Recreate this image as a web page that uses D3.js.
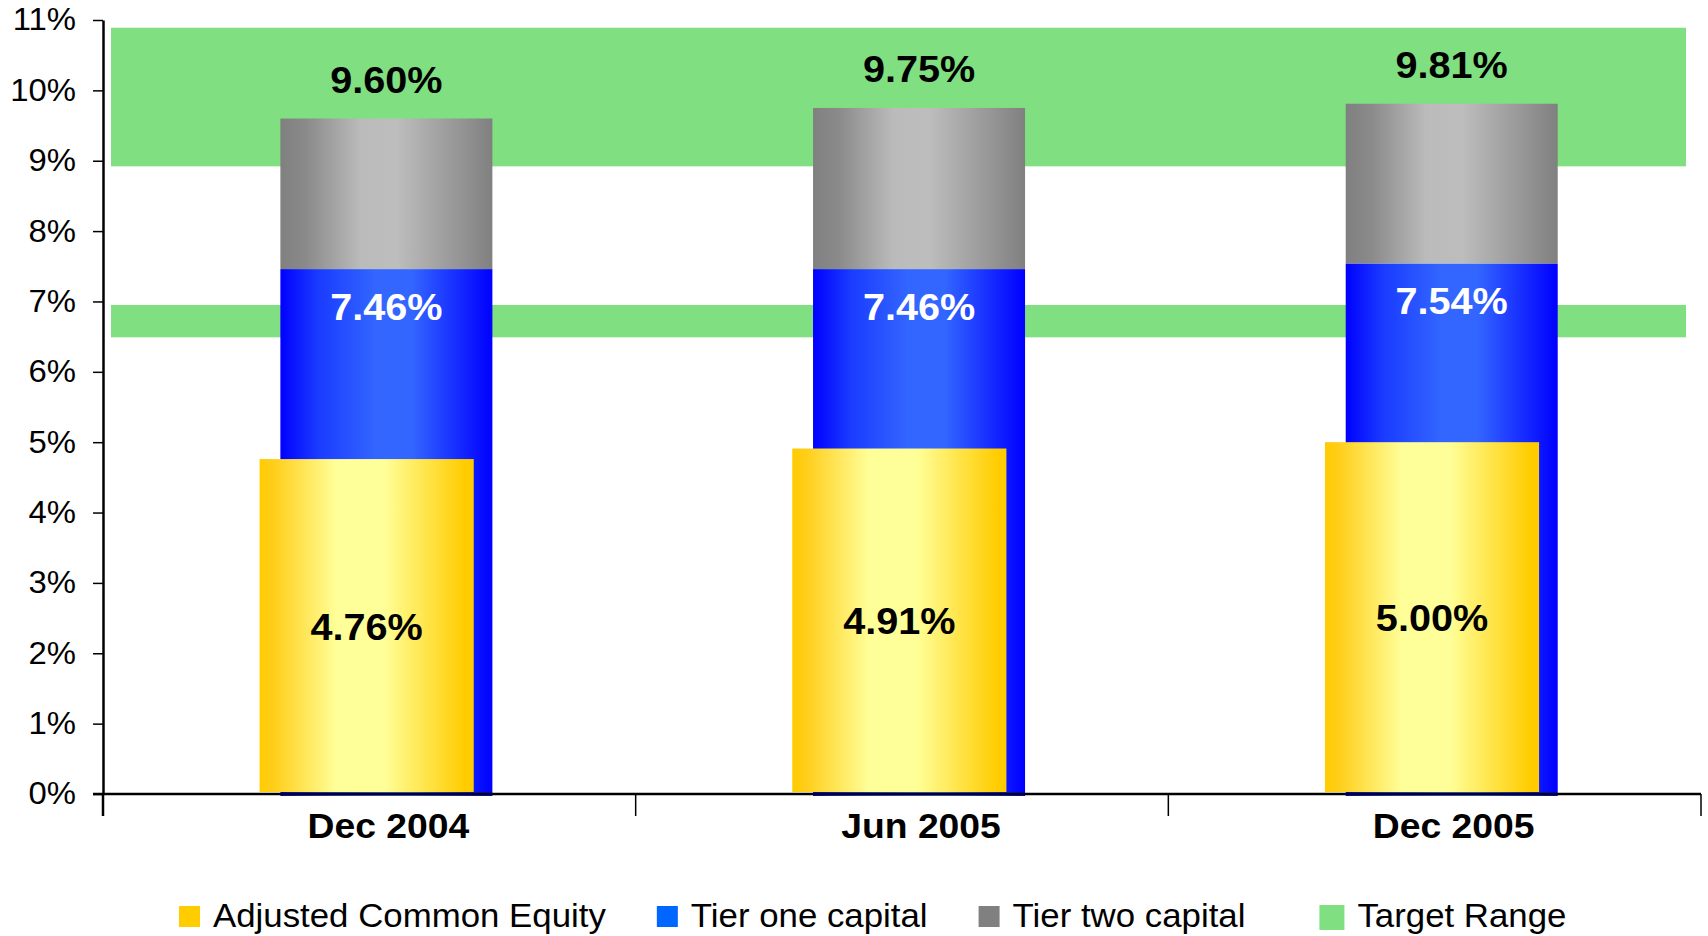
<!DOCTYPE html>
<html>
<head>
<meta charset="utf-8">
<script src="https://cdnjs.cloudflare.com/ajax/libs/d3/7.8.5/d3.min.js"></script>
<style>
  body { margin: 0; background: #fff; }
  text { font-family: "Liberation Sans", Arial, sans-serif; }
</style>
</head>
<body>
<div id="chart"></div>
<script>
// chart data
var periods = ["Dec 2004", "Jun 2005", "Dec 2005"];
var commonEquity = [4.76, 4.91, 5.00];
var tierOne = [7.46, 7.46, 7.54];
var totalCapital = [9.60, 9.75, 9.81];
var targetBands = [[8.92, 10.89], [6.49, 6.95]];
var yTicks = [0, 1, 2, 3, 4, 5, 6, 7, 8, 9, 10, 11];
var legendNames = ["Adjusted Common Equity", "Tier one capital", "Tier two capital", "Target Range"];
var legendColors = ["#ffcc00", "#0066ff", "#808080", "#80df80"];

var W = 1708, H = 936;
var margin = {top: 20, right: 7, bottom: 142, left: 103};

var svg = d3.select("#chart").append("svg")
    .attr("width", W)
    .attr("height", H);

var defs = svg.append("defs");

function gradient(id, stops) {
    var g = defs.append("linearGradient")
        .attr("id", id)
        .attr("x1", "0%").attr("x2", "100%")
        .attr("y1", "0%").attr("y2", "0%");
    stops.forEach(function(s) {
        g.append("stop").attr("offset", s[0]).attr("stop-color", s[1]);
    });
}
gradient("gYellow", [["0%", "#ffcc00"], ["6%", "#ffcd18"], ["36%", "#ffff99"], ["58%", "#ffff99"], ["96%", "#ffcc00"], ["100%", "#ffcc00"]]);
gradient("gBlue", [["0%", "#0000ff"], ["18%", "#1a3cff"], ["45%", "#3366ff"], ["62%", "#3366ff"], ["100%", "#0000ff"]]);
gradient("gGrey", [["0%", "#808080"], ["12%", "#8a8a8a"], ["38%", "#bbbbbb"], ["55%", "#bdbdbd"], ["100%", "#808080"]]);

// the original text is a bit wider than plain Arial
function stretch(sel, k) {
    sel.each(function() {
        var w = this.getComputedTextLength();
        d3.select(this)
            .attr("textLength", w * k)
            .attr("lengthAdjust", "spacingAndGlyphs");
    });
}

var x = d3.scaleBand()
    .domain(periods)
    .range([margin.left, W - margin.right])
    .paddingInner(0)
    .paddingOuter(0);

var y = d3.scaleLinear()
    .domain([0, 11])
    .range([H - margin.bottom, margin.top]);

var bw = x.bandwidth();
// where each bar sits inside its category band
var yellowPos = [0.294, 0.696];
var bluePos = [0.333, 0.731];

var rows = periods.map(function(p, i) {
    return {period: p, ace: commonEquity[i], t1: tierOne[i], total: totalCapital[i]};
});

// target range bands
svg.append("g").selectAll("rect")
    .data(targetBands)
    .enter().append("rect")
    .attr("x", x.range()[0] + 8)
    .attr("width", x.range()[1] - x.range()[0] - 23)
    .attr("y", function(d) { return y(d[1]); })
    .attr("height", function(d) { return y(d[0]) - y(d[1]); })
    .attr("fill", "#80df80");

var bars = svg.append("g").selectAll("g")
    .data(rows)
    .enter().append("g")
    .attr("transform", function(d) { return "translate(" + x(d.period) + ",0)"; });

// tier one
bars.append("rect")
    .attr("x", bluePos[0] * bw)
    .attr("width", (bluePos[1] - bluePos[0]) * bw)
    .attr("y", function(d) { return y(d.t1); })
    .attr("height", function(d) { return y(0) - y(d.t1) + 2; })
    .attr("fill", "url(#gBlue)");

// tier two
bars.append("rect")
    .attr("x", bluePos[0] * bw)
    .attr("width", (bluePos[1] - bluePos[0]) * bw)
    .attr("y", function(d) { return y(d.total); })
    .attr("height", function(d) { return y(d.t1) - y(d.total); })
    .attr("fill", "url(#gGrey)");

// adjusted common equity
bars.append("rect")
    .attr("x", yellowPos[0] * bw)
    .attr("width", (yellowPos[1] - yellowPos[0]) * bw)
    .attr("y", function(d) { return y(d.ace); })
    .attr("height", function(d) { return y(0) - y(d.ace) - 2; })
    .attr("fill", "url(#gYellow)");

var blueMid = (bluePos[0] + bluePos[1]) / 2 * bw;
var yellowMid = (yellowPos[0] + yellowPos[1]) / 2 * bw;

bars.append("text")
    .attr("class", "vlab")
    .attr("x", blueMid)
    .attr("y", function(d) { return y(d.total) - 26; })
    .attr("text-anchor", "middle")
    .style("font-size", "37px").style("font-weight", "bold")
    .attr("fill", "#000")
    .text(function(d) { return d.total.toFixed(2) + "%"; });

bars.append("text")
    .attr("class", "vlab")
    .attr("x", blueMid)
    .attr("y", function(d) { return y(d.t1) + 51; })
    .attr("text-anchor", "middle")
    .style("font-size", "37px").style("font-weight", "bold")
    .attr("fill", "#fff")
    .text(function(d) { return d.t1.toFixed(2) + "%"; });

bars.append("text")
    .attr("class", "vlab")
    .attr("x", yellowMid)
    .attr("y", function(d) { return (y(d.ace) + y(0)) / 2 + 13; })
    .attr("text-anchor", "middle")
    .style("font-size", "37px").style("font-weight", "bold")
    .attr("fill", "#000")
    .text(function(d) { return d.ace.toFixed(2) + "%"; });

stretch(svg.selectAll(".vlab"), 1.07);

// y axis
var yAxis = d3.axisLeft(y)
    .tickValues(yTicks)
    .tickSize(10)
    .tickSizeOuter(0)
    .tickPadding(17)
    .tickFormat(function(d) { return d + "%"; });

var yg = svg.append("g")
    .attr("transform", "translate(" + margin.left + ",0)")
    .call(yAxis);
yg.select(".domain").attr("stroke", "#000").attr("stroke-width", 2.5);
yg.selectAll(".tick line").attr("stroke", "#000").attr("stroke-width", 1.5);
yg.selectAll(".tick text")
    .attr("fill", "#000")
    .style("font-size", "31px")
    .style("font-family", "'Liberation Sans', Arial, sans-serif");
stretch(yg.selectAll(".tick text"), 1.06);

// x axis line and category ticks
svg.append("line")
    .attr("x1", margin.left - 10).attr("x2", x.range()[1])
    .attr("y1", y(0)).attr("y2", y(0))
    .attr("stroke", "#000").attr("stroke-width", 2.5);

var tickEdges = [x.range()[0]].concat(periods.map(function(p) { return x(p) + bw; }));
svg.append("g").selectAll("line")
    .data(tickEdges)
    .enter().append("line")
    .attr("x1", function(d) { return d; }).attr("x2", function(d) { return d; })
    .attr("y1", y(0)).attr("y2", y(0) + 22)
    .attr("stroke", "#000")
    .attr("stroke-width", function(d, i) { return i === 0 ? 2.5 : 1.5; });

var catLabels = svg.append("g").selectAll("text")
    .data(periods)
    .enter().append("text")
    .attr("x", function(d) { return x(d) + blueMid + 2; })
    .attr("y", y(0) + 44)
    .attr("text-anchor", "middle")
    .style("font-size", "35px").style("font-weight", "bold")
    .text(function(d) { return d; });
stretch(catLabels, 1.065);

// legend
var legend = svg.append("g").attr("transform", "translate(179,927)");
var lx = 0;
legendNames.forEach(function(name, i) {
    var item = legend.append("g").attr("transform", "translate(" + lx + ",0)");
    var s = i === 3 ? 25 : 21;
    item.append("rect")
        .attr("x", 0).attr("y", -s + (i === 3 ? 3 : 0))
        .attr("width", s).attr("height", s)
        .attr("fill", legendColors[i]);
    var t = item.append("text")
        .attr("x", s + 13)
        .attr("y", 0)
        .style("font-size", "33px")
        .text(name);
    var w = t.node().getComputedTextLength() * 1.055;
    stretch(t, 1.055);
    lx += s + 13 + w + (i === 2 ? 74 : 51);
});
</script>
</body>
</html>
